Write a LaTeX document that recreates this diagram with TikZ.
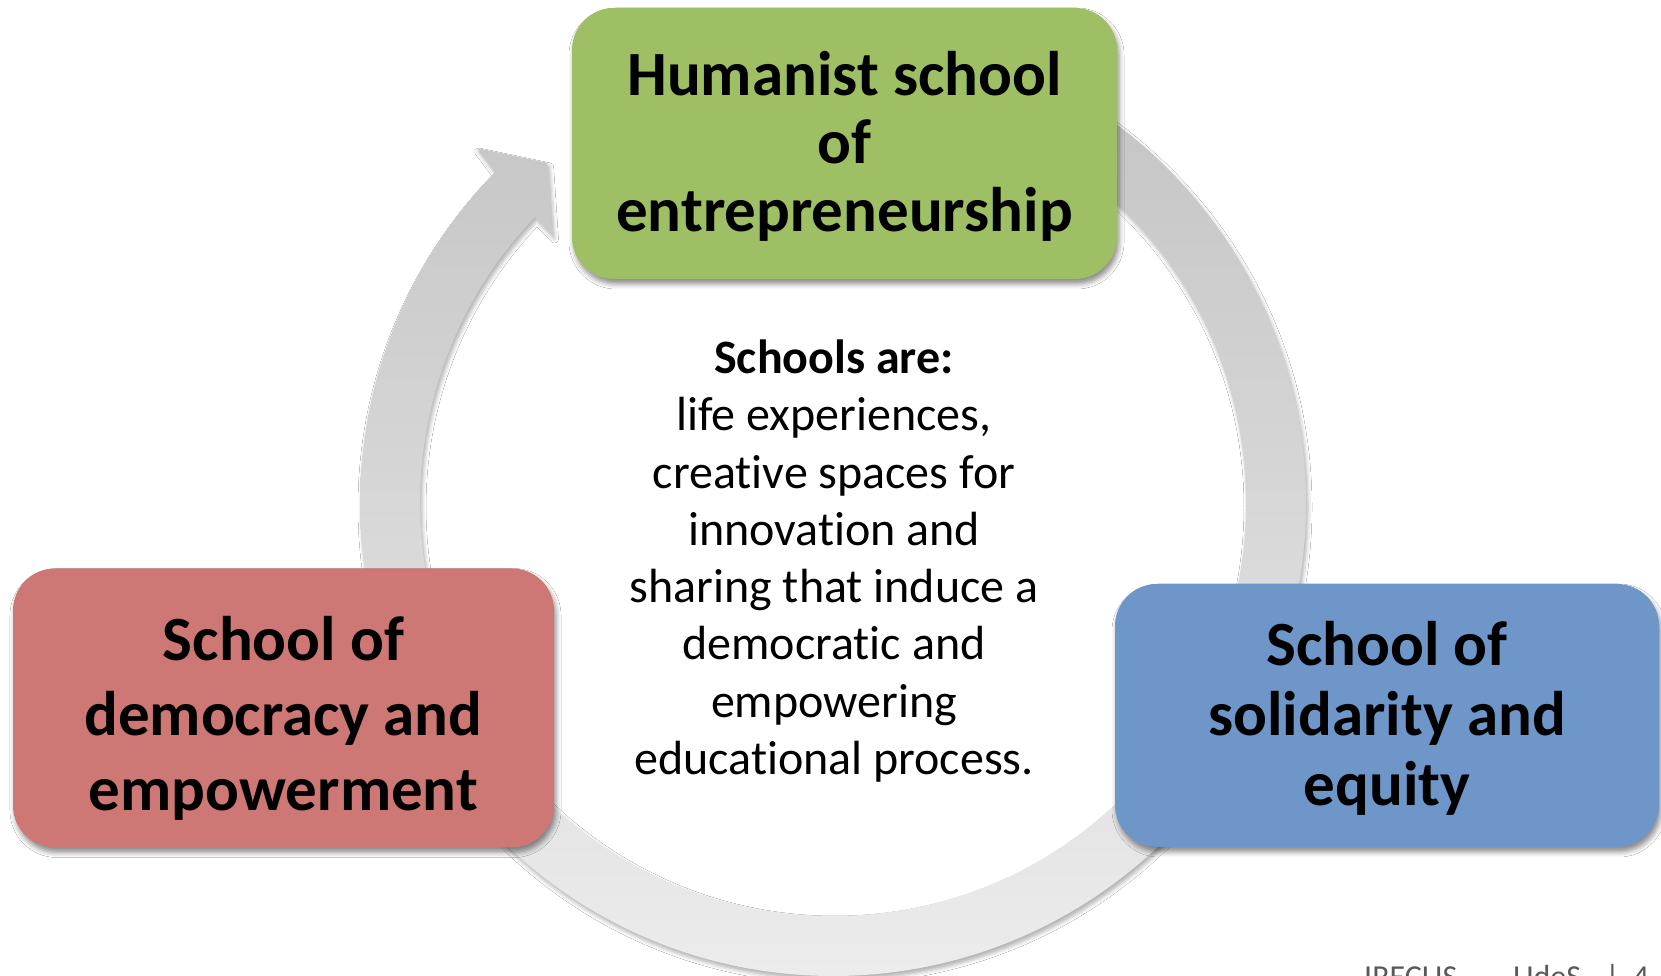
\documentclass[tikz,border=0pt]{standalone}
\usepackage{fontspec}
\setmainfont{Carlito}[Ligatures=NoCommon]
\usetikzlibrary{shadows.blur}
\definecolor{boxgreen}{RGB}{159,191,101}
\definecolor{boxred}{RGB}{205,120,116}
\definecolor{boxblue}{RGB}{110,150,200}
\definecolor{ringtop}{RGB}{194,194,194}
\definecolor{ringbot}{RGB}{236,236,236}
\definecolor{footgray}{RGB}{89,89,89}
\begin{document}
\begin{tikzpicture}[x=1pt,y=1pt,
  schoolbox/.style={rounded corners=42pt, inner sep=0pt,
    blur shadow={shadow xshift=2pt, shadow yshift=-5pt, shadow blur radius=5pt, shadow opacity=45}},
  boxtext/.style={align=center, inner sep=0pt, text=black},
  ringshape/.style={top color=ringtop, bottom color=ringbot,
    blur shadow={shadow xshift=2pt, shadow yshift=-4pt, shadow blur radius=4pt, shadow opacity=30}},
  centertext/.style={align=center, font=\fontsize{48}{57.3}\selectfont, inner sep=0pt},
  foottext/.style={font=\fontsize{32}{38}\selectfont, text=footgray, inner sep=0pt, anchor=base west}
]
\useasboundingbox (0,0) rectangle (1661,976);
\fill[white] (0,0) rectangle (1661,976);

% circular arrow
\begin{scope}[shift={(833,473)}]
\path[ringshape]
  (90:473) arc[start angle=90, end angle=-224.4, radius=473]
  -- (-224.9:503) -- (-230:444) -- (-223.7:388) -- (-223.8:413)
  arc[start angle=-223.8, end angle=90, radius=413] -- cycle;
\end{scope}

% boxes
\node[schoolbox, fill=boxgreen, minimum width=545pt, minimum height=271pt] (humanist) at (844.5,832.5) {};
\node[schoolbox, fill=boxred, minimum width=541pt, minimum height=279pt] (democracy) at (283.5,268) {};
\node[schoolbox, fill=boxblue, minimum width=544pt, minimum height=263pt] (solidarity) at (1387,260.5) {};

% box texts
\node[boxtext, font=\bfseries\fontsize{63}{68}\selectfont] (humanist-text) at ([yshift=-3pt]humanist.center)
  {Humanist school\\of\\entrepreneurship};
\node[boxtext, font=\bfseries\fontsize{63}{75}\selectfont] (democracy-text) at ([yshift=-10.5pt]democracy.center)
  {School of\\democracy and\\empowerment};
\node[boxtext, font=\bfseries\fontsize{63}{70}\selectfont] (solidarity-text) at ([yshift=-2.5pt]solidarity.center)
  {School of\\solidarity and\\equity};

% centre text
\node[centertext] (schools) at (834,415)
  {\textbf{Schools are:}\\life experiences,\\creative spaces for\\innovation and\\sharing that induce a\\democratic and\\empowering\\educational process.};

% footer
\node[foottext] (footer) at (1364,-12)
  {IRECUS\hspace{20pt}–\hspace{20pt}UdeS\hspace{24pt}|\hspace{13pt}4};
\end{tikzpicture}
\end{document}
